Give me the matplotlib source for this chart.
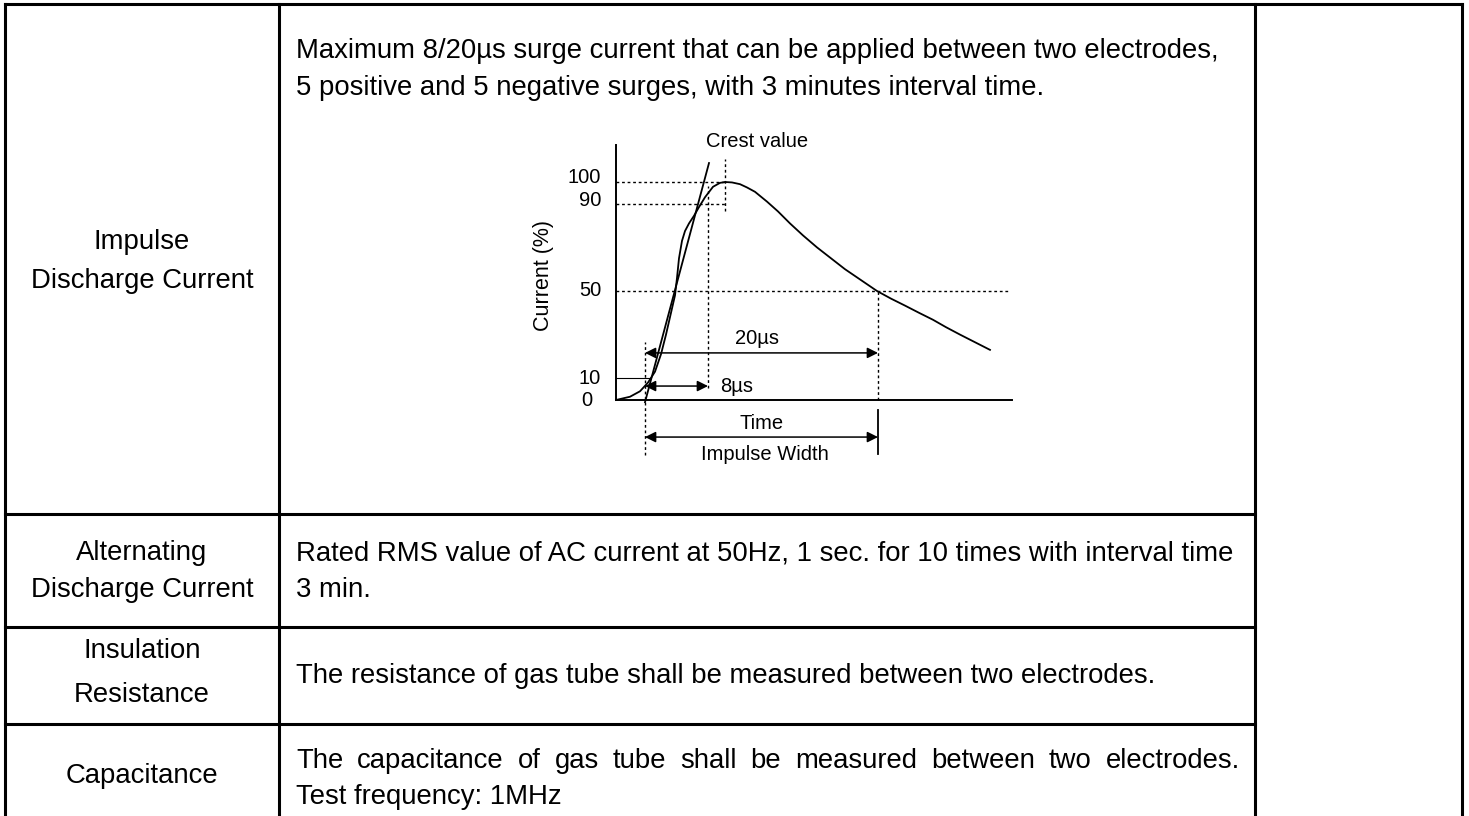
import matplotlib
matplotlib.use("Agg")
import matplotlib.pyplot as plt

plt.rcParams['font.family'] = ['Liberation Sans', 'DejaVu Sans']

# 8/20us impulse waveform (time in drawing units, current in %)
wave_t = [0, 1.4, 2.4, 3.2, 3.9, 4.5, 5.0, 5.5, 5.9, 6.1, 6.3, 6.6, 6.9, 7.3, 7.8, 8.3, 8.9,
          9.7, 10.4, 10.9, 11.6, 12.4, 13.1, 13.9, 15.1, 16.2, 17.4, 18.7, 20.1,
          21.5, 22.9, 24.5, 26.1, 27.5, 28.9, 30.3, 31.7, 33.0, 34.4, 35.9, 37.4]
wave_pct = [0, 1.5, 4, 8, 13, 21, 30, 40, 48, 56, 65, 73, 77.5, 81, 84.5, 88.5, 93,
            97.8, 99.6, 100, 99.8, 99, 97.5, 95.5, 91, 86.5, 81, 75.5, 70,
            65, 60, 55, 50, 46.5, 43.3, 40, 36.8, 33.4, 30, 26.5, 23]

# straight line through the front (10% / 90% points)
front_t = [2.9, 9.3]
front_pct = [-1, 108.7]

t_origin = 2.9    # virtual origin
t_90 = 9.2        # end of the 8us front
t_crest = 10.9
t_half = 26.2     # 50% on the tail
t_axis_end = 39.6
pct_axis_top = 117

level_ticks = [100, 90, 50, 10, 0]

row_names = [["Impulse", "Discharge Current"],
             ["Alternating", "Discharge Current"],
             ["Insulation", "Resistance"],
             ["Capacitance"]]
row_text = [["Maximum 8/20\u00b5s surge current that can be applied between two electrodes,",
             "5 positive and 5 negative surges, with 3 minutes interval time."],
            ["Rated RMS value of AC current at 50Hz, 1 sec. for 10 times with interval time",
             "3 min."],
            ["The resistance of gas tube shall be measured between two electrodes."],
            ["The capacitance of gas tube shall be measured between two electrodes.",
             "Test frequency: 1MHz"]]

W, H = 1469, 816
fig = plt.figure(figsize=(W / 100, H / 100), dpi=100)
ax = fig.add_axes([0, 0, 1, 1])
ax.set_xlim(0, W)
ax.set_ylim(H, 0)
ax.axis('off')

# table grid
lw_tab = 2.2
x_left, x_mid, x_right, x_edge = 5, 279, 1255, 1462
y_top = 4
row_lines = [514, 627, 724]
ax.plot([x_left, x_edge], [y_top, y_top], color='black', lw=lw_tab)
for x in (x_left, x_mid, x_right, x_edge):
    ax.plot([x, x], [y_top, H + 5], color='black', lw=lw_tab)
for y in row_lines:
    ax.plot([x_left, x_right], [y, y], color='black', lw=lw_tab)

fs = 19.8
name_centers = [[242, 281], [553, 590], [651, 695], [776]]
text_centers = [[51, 88], [553, 590], [676], [761, 797]]
for names, ys in zip(row_names, name_centers):
    for s, y in zip(names, ys):
        ax.text((x_left + x_mid) / 2, y, s, ha='center', va='center', fontsize=fs)

renderer = fig.canvas.get_renderer()


def justified(line, x0, x1, y):
    # spread words so the line fills x0..x1
    words = line.split(' ')
    arts = [ax.text(0, y, w, ha='left', va='center', fontsize=fs) for w in words]
    widths = [a.get_window_extent(renderer).width for a in arts]
    gap = (x1 - x0 - sum(widths)) / (len(words) - 1)
    x = x0
    for a, w in zip(arts, widths):
        a.set_x(x)
        x += w + gap


for i, (lines, ys) in enumerate(zip(row_text, text_centers)):
    for j, (s, y) in enumerate(zip(lines, ys)):
        if i == 3 and j == 0:
            justified(s, 296, 1240, y)
        else:
            ax.text(296, y, s, ha='left', va='center', fontsize=fs)

# waveform diagram, t = (px - 616) / 10, pct = (400 - py) / 2.18
xl, xr = 516, 1066
yb, yt = 400 + 40 * 2.18, 400 - 125 * 2.18
dax = fig.add_axes([xl / W, 1 - yb / H, (xr - xl) / W, (yb - yt) / H])
dax.set_xlim(-10, 45)
dax.set_ylim(-40, 125)
dax.axis('off')

dot = dict(color='black', lw=1.0, linestyle=(0, (2, 2)))
fsd = 14.5

dax.plot([0, 0], [0, pct_axis_top], color='black', lw=1.4)
dax.plot([0, t_axis_end], [0, 0], color='black', lw=1.4)
dax.plot(wave_t, wave_pct, color='black', lw=1.3, solid_joinstyle='round')
dax.plot(front_t, front_pct, color='black', lw=1.3)

dax.plot([0, t_crest], [100, 100], **dot)
dax.plot([0, t_crest], [90, 90], **dot)
dax.plot([t_crest, t_crest], [86.7, 110.5], **dot)
dax.plot([t_90, t_90], [5.5, 98], **dot)
dax.plot([0, t_axis_end - 0.4], [50, 50], **dot)
dax.plot([t_half, t_half], [0, 50], **dot)
dax.plot([t_origin, t_origin], [-25.2, 26.6], **dot)
dax.plot([0, 3.4], [10, 10], color='black', lw=0.8)
dax.plot([t_half, t_half], [-4.6, -24.8], color='black', lw=1.3)

arrow = dict(arrowstyle='<|-|>', color='black', lw=1.1, mutation_scale=16,
             shrinkA=0, shrinkB=0)
dax.annotate('', xy=(t_half, 21.6), xytext=(t_origin, 21.6), arrowprops=arrow)
dax.annotate('', xy=(t_90, 6.4), xytext=(t_origin, 6.4), arrowprops=arrow)
dax.annotate('', xy=(t_half, -17), xytext=(t_origin, -17), arrowprops=arrow)

for v in level_ticks:
    off = {100: 2, 90: 1.5}.get(v, 0)
    if v == 0:
        dax.text(-2.9, v, '0', ha='center', va='center', fontsize=fsd)
    else:
        dax.text(-1.5, v + off, str(v), ha='right', va='center', fontsize=fsd)

dax.text(-7.3, 57, 'Current (%)', rotation=90, ha='center', va='center', fontsize=15.5)
dax.text(14.1, 118.8, 'Crest value', ha='center', va='center', fontsize=fsd)
dax.text(14.1, 28.4, '20\u00b5s', ha='center', va='center', fontsize=fsd)
dax.text(10.4, 6.4, '8\u00b5s', ha='left', va='center', fontsize=fsd)
dax.text(14.6, -10.6, 'Time', ha='center', va='center', fontsize=fsd)
dax.text(14.9, -24.8, 'Impulse Width', ha='center', va='center', fontsize=fsd)

fig.savefig('out.png', dpi=100)
